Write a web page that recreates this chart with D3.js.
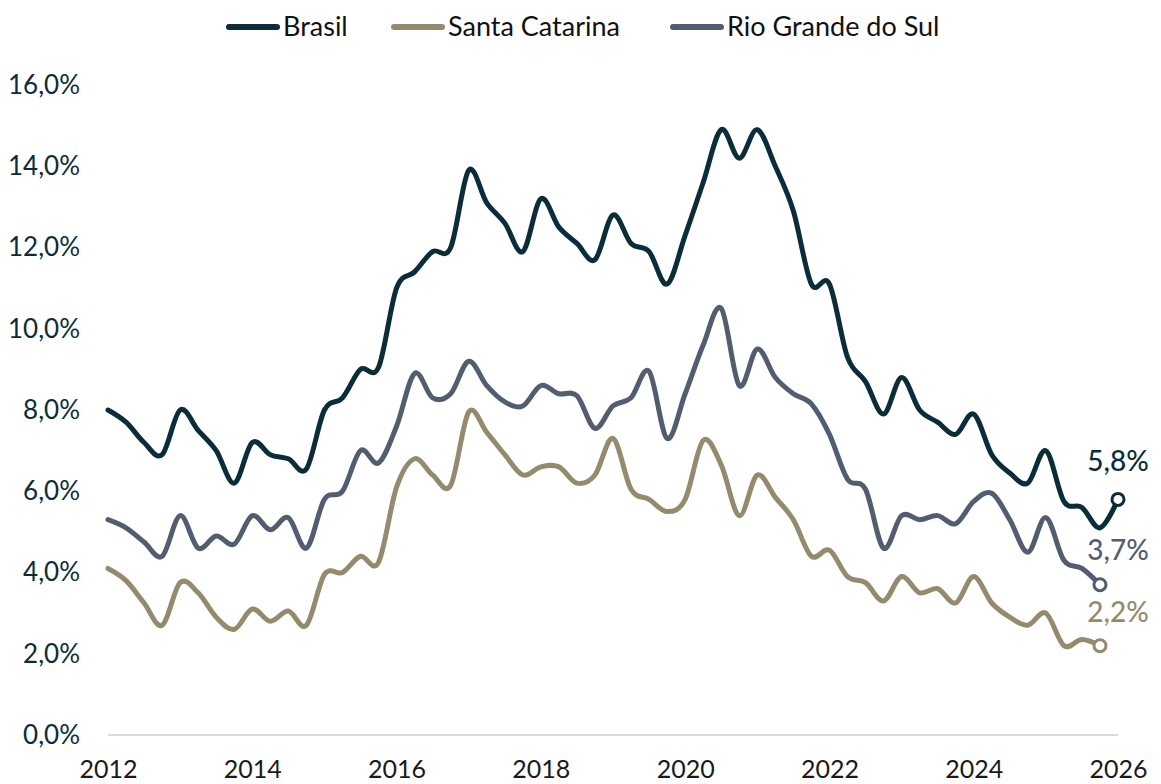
<!DOCTYPE html>
<html lang="pt">
<head>
  <meta charset="UTF-8">
  <title>Taxa de desocupação</title>
  <style>
    body { margin: 0; background: #fff; }
    svg text { font-family: "Source Sans Pro", Lato, sans-serif; }
  </style>
</head>
<body>
  <script src="https://cdn.jsdelivr.net/npm/d3@7"></script>
  <script>
  // dados trimestrais a partir de 2012 T1
  var brasil = [8.0, 7.7, 7.2, 6.9, 8.0, 7.5, 7.0, 6.2, 7.2, 6.9, 6.8, 6.55,
    8.0, 8.3, 9.0, 9.05, 11.0, 11.4, 11.9, 12.0, 13.9, 13.1, 12.6, 11.9,
    13.2, 12.5, 12.1, 11.7, 12.8, 12.1, 11.9, 11.1, 12.3, 13.6, 14.9, 14.2,
    14.9, 14.0, 12.9, 11.1, 11.1, 9.3, 8.7, 7.9, 8.8, 8.0, 7.7, 7.4,
    7.9, 6.9, 6.45, 6.2, 7.0, 5.75, 5.6, 5.1, 5.8];
  var santaCatarina = [4.1, 3.8, 3.25, 2.7, 3.75, 3.5, 2.9, 2.6, 3.1, 2.8, 3.05, 2.7,
    3.95, 4.0, 4.4, 4.25, 6.1, 6.8, 6.4, 6.15, 7.95, 7.45, 6.9, 6.4,
    6.6, 6.6, 6.2, 6.4, 7.3, 6.05, 5.8, 5.5, 5.8, 7.25, 6.65, 5.4,
    6.4, 5.85, 5.3, 4.4, 4.55, 3.9, 3.75, 3.3, 3.9, 3.5, 3.6, 3.25,
    3.9, 3.25, 2.9, 2.7, 3.0, 2.2, 2.35, 2.2];
  var rioGrande = [5.3, 5.1, 4.75, 4.4, 5.4, 4.6, 4.9, 4.7, 5.4, 5.05, 5.35, 4.6,
    5.8, 6.0, 7.0, 6.7, 7.6, 8.9, 8.3, 8.4, 9.2, 8.6, 8.2, 8.1,
    8.6, 8.4, 8.35, 7.55, 8.1, 8.3, 8.95, 7.3, 8.4, 9.6, 10.5, 8.6,
    9.5, 8.8, 8.4, 8.15, 7.4, 6.3, 6.05, 4.6, 5.4, 5.3, 5.4, 5.2,
    5.75, 5.95, 5.3, 4.5, 5.35, 4.3, 4.1, 3.7];

  var xTicks = [2012, 2014, 2016, 2018, 2020, 2022, 2024, 2026];
  var yTicks = [0, 2, 4, 6, 8, 10, 12, 14, 16];

  var series = [
    { name: 'Brasil', values: brasil, color: '#0b2d3a' },
    { name: 'Santa Catarina', values: santaCatarina, color: '#948b6f' },
    { name: 'Rio Grande do Sul', values: rioGrande, color: '#525e70' }
  ];

  var w = 1161, h = 784;
  var svg = d3.select('body').append('svg').attr('width', w).attr('height', h);

  var x = d3.scaleLinear().domain([2012, 2026]).range([108, 1118]);
  var y = d3.scaleLinear().domain([0, 16]).range([735, 85]);

  var fmt = function (v) { return v.toFixed(1).replace('.', ',') + '%'; };

  // eixo y (só rótulos)
  var yAxis = svg.append('g')
    .attr('transform', 'translate(80,0)')
    .call(d3.axisLeft(y).tickValues(yTicks).tickSize(0).tickPadding(0).tickFormat(fmt));
  yAxis.select('.domain').remove();
  yAxis.selectAll('text').attr('font-size', 26).attr('fill', '#0d2c3a')
    .attr('font-family', '"Source Sans Pro", Lato, sans-serif');

  // linha de base
  svg.append('line')
    .attr('x1', x(2012)).attr('x2', x(2026))
    .attr('y1', y(0)).attr('y2', y(0))
    .attr('stroke', '#d9d9d9').attr('stroke-width', 2);

  // eixo x
  var xAxis = svg.append('g')
    .attr('transform', 'translate(0,' + y(0) + ')')
    .call(d3.axisBottom(x).tickValues(xTicks).tickSize(0).tickPadding(25).tickFormat(d3.format('d')));
  xAxis.select('.domain').remove();
  xAxis.selectAll('text').attr('font-size', 25).attr('fill', '#1a1a1a')
    .attr('font-family', '"Source Sans Pro", Lato, sans-serif');

  var line = d3.line()
    .x(function (d, i) { return x(2012 + i / 4); })
    .y(function (d) { return y(d); })
    .curve(d3.curveCatmullRom.alpha(0));

  // desenhar de trás para frente
  series.slice().reverse().forEach(function (s) {
    svg.append('path')
      .datum(s.values)
      .attr('d', line)
      .attr('fill', 'none')
      .attr('stroke', s.color)
      .attr('stroke-width', 5)
      .attr('stroke-linejoin', 'round')
      .attr('stroke-linecap', 'round');
  });

  // marcador final e rótulo
  var labelDy = { 'Brasil': -28, 'Santa Catarina': -24, 'Rio Grande do Sul': -25 };
  series.forEach(function (s) {
    var n = s.values.length - 1;
    var cx = x(2012 + n / 4), cy = y(s.values[n]);
    svg.append('circle')
      .attr('cx', cx).attr('cy', cy).attr('r', 6)
      .attr('fill', '#fff').attr('stroke', s.color).attr('stroke-width', 3);
    svg.append('text')
      .attr('x', 1118).attr('y', cy + labelDy[s.name])
      .attr('text-anchor', 'middle')
      .attr('font-size', 28)
      .attr('font-weight', 500)
      .attr('fill', s.color)
      .text(fmt(s.values[n]));
  });

  // legenda
  var legendX = [226, 391, 670];
  var legend = svg.append('g');
  series.forEach(function (s, i) {
    var g = legend.append('g').attr('transform', 'translate(' + legendX[i] + ',27)');
    g.append('line')
      .attr('x1', 3).attr('x2', 51).attr('y1', 0).attr('y2', 0)
      .attr('stroke', s.color).attr('stroke-width', 6).attr('stroke-linecap', 'round');
    g.append('text')
      .attr('x', 57).attr('y', 9)
      .attr('font-size', 27)
      .attr('fill', '#111')
      .text(s.name);
  });
  </script>
</body>
</html>
